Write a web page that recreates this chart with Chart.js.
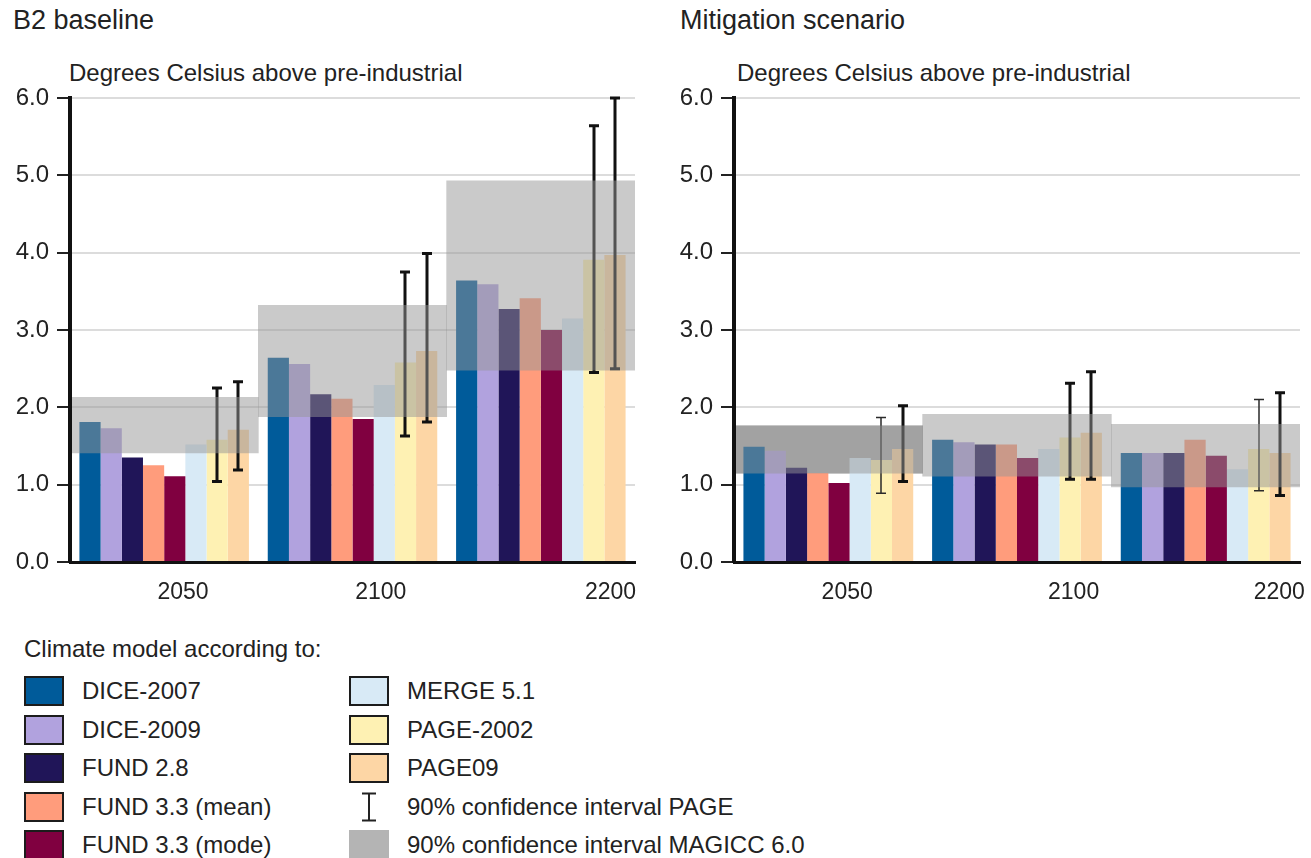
<!DOCTYPE html>
<html>
<head>
<meta charset="utf-8">
<title>Warming by climate model: B2 baseline vs mitigation</title>
<script src="https://cdn.jsdelivr.net/npm/chart.js@4.4.1/dist/chart.umd.min.js"></script>
<style>
  html, body { margin: 0; padding: 0; background: #fff; }
  body {
    width: 1311px; height: 858px; position: relative; overflow: hidden;
    font-family: "Liberation Sans", Arial, Helvetica, sans-serif; color: #222;
  }
  .panel-title { position: absolute; top: 7px; font-size: 27px; line-height: 27px; white-space: nowrap; }
  .unit-label { position: absolute; top: 61px; font-size: 24px; line-height: 24px; white-space: nowrap; }
  canvas { position: absolute; top: 0; }
  #legend-title { position: absolute; left: 24px; top: 637px; font-size: 24px; line-height: 24px; white-space: nowrap; }
  .legend-row { position: absolute; height: 30px; display: flex; align-items: center; font-size: 24px; line-height: 30px; white-space: nowrap; }
  .legend-swatch { width: 40px; height: 30px; box-sizing: border-box; border: 2.5px solid #1c1c1c; flex: none; }
  .legend-swatch.plain { border: none; }
  .legend-text { margin-left: 18px; }
  .legend-icon { width: 40px; height: 30px; flex: none; }
</style>
</head>
<body>

<div class="panel-title" style="left:13px">B2 baseline</div>
<div class="panel-title" style="left:680px">Mitigation scenario</div>
<div class="unit-label" style="left:69px">Degrees Celsius above pre-industrial</div>
<div class="unit-label" style="left:737px">Degrees Celsius above pre-industrial</div>

<canvas id="b2Chart" width="650" height="620" style="left:0px"></canvas>
<canvas id="mitChart" width="647" height="620" style="left:664px"></canvas>

<div id="legend-title">Climate model according to:</div>
<div id="legend"></div>

<script>
// ---- Data: temperature rise (°C above pre-industrial) in 2050, 2100, 2200 ----
const years = ['2050', '2100', '2200'];
const models = ['DICE-2007', 'DICE-2009', 'FUND 2.8', 'FUND 3.3 (mean)', 'FUND 3.3 (mode)',
                'MERGE 5.1', 'PAGE-2002', 'PAGE09'];
const yTicks = [0, 1, 2, 3, 4, 5, 6];

// B2 baseline
const b2Dice2007    = [1.81, 2.64, 3.64];
const b2Dice2009    = [1.73, 2.56, 3.59];
const b2Fund28      = [1.35, 2.17, 3.27];
const b2Fund33Mean  = [1.25, 2.11, 3.41];
const b2Fund33Mode  = [1.11, 1.85, 3.00];
const b2Merge51     = [1.52, 2.29, 3.15];
const b2Page2002    = [1.58, 2.58, 3.91];
const b2Page09      = [1.71, 2.73, 3.97];
const b2Page2002CI  = [[1.04, 2.25], [1.63, 3.75], [2.45, 5.64]];
const b2Page09CI    = [[1.19, 2.33], [1.81, 3.99], [2.50, 6.00]];
const b2MagiccCI    = [[1.41, 2.13], [1.88, 3.32], [2.48, 4.93]];

// Mitigation scenario
const mitDice2007   = [1.49, 1.58, 1.41];
const mitDice2009   = [1.44, 1.55, 1.41];
const mitFund28     = [1.22, 1.52, 1.41];
const mitFund33Mean = [1.15, 1.52, 1.58];
const mitFund33Mode = [1.02, 1.345, 1.375];
const mitMerge51    = [1.345, 1.46, 1.20];
const mitPage2002   = [1.32, 1.61, 1.46];
const mitPage09     = [1.46, 1.67, 1.41];
const mitPage2002CI = [[0.89, 1.87], [1.07, 2.31], [0.92, 2.10]];
const mitPage09CI   = [[1.04, 2.02], [1.07, 2.46], [0.86, 2.19]];
const mitMagiccCI   = [[1.15, 1.76], [1.11, 1.91], [0.97, 1.78]];

// ---- Styling ----
const FONT = '"Liberation Sans", Arial, Helvetica, sans-serif';
const modelColors = ['#005b9a', '#b1a2de', '#201558', '#ff9c7c', '#800040', '#d8eaf6', '#fef1b3', '#fdd6a5'];
const bandColor = 'rgba(149,149,149,0.5)';
const bandLegendColor = '#b4b4b4';

// Draws the PAGE 90% whiskers just before the MAGICC band, so the band shades them.
const whiskerPlugin = {
  id: 'pageWhiskers',
  beforeDatasetDraw(chart, args) {
    const band = chart.data.datasets[args.index];
    if (!band.isMagiccBand) return;
    const ctx = chart.ctx;
    const yScale = chart.scales.y;
    chart.data.datasets.forEach((ds, di) => {
      if (!ds.ci) return;
      const meta = chart.getDatasetMeta(di);
      ds.ci.forEach(([lo, hi], j) => {
        const bar = meta.data[j];
        if (!bar) return;
        const w = ds.whiskerWidths[j];
        const x = Math.round(bar.x);
        const yLo = yScale.getPixelForValue(lo);
        const yHi = yScale.getPixelForValue(hi);
        const half = 5;
        ctx.save();
        ctx.strokeStyle = w > 2 ? '#111' : '#2a2a2a';
        ctx.lineWidth = w;
        ctx.lineCap = 'butt';
        ctx.beginPath();
        ctx.moveTo(x, yHi); ctx.lineTo(x, yLo);
        ctx.moveTo(x - half, yHi); ctx.lineTo(x + half, yHi);
        ctx.moveTo(x - half, yLo); ctx.lineTo(x + half, yLo);
        ctx.stroke();
        ctx.restore();
      });
    });
  }
};

function modelDatasets(series, page2002CI, page09CI, whiskerWidths2002, whiskerWidths09) {
  return series.map((values, i) => {
    const ds = {
      label: models[i],
      data: values,
      xAxisID: 'x', yAxisID: 'y',
      backgroundColor: modelColors[i],
      borderWidth: 0,
      categoryPercentage: 0.9,
      barPercentage: 1.0,
      order: 2
    };
    if (models[i] === 'PAGE-2002') { ds.ci = page2002CI; ds.whiskerWidths = whiskerWidths2002; }
    if (models[i] === 'PAGE09')    { ds.ci = page09CI;   ds.whiskerWidths = whiskerWidths09; }
    return ds;
  });
}

function bandDataset(ci) {
  return {
    label: '90% confidence interval MAGICC 6.0',
    data: ci,
    xAxisID: 'x', yAxisID: 'y',
    grouped: false,
    categoryPercentage: 1.0,
    barPercentage: 1.0,
    backgroundColor: bandColor,
    borderWidth: 0,
    order: 0,
    isMagiccBand: true
  };
}

function panelOptions(labelAnchors, padRight) {
  return {
    responsive: false,
    animation: false,
    devicePixelRatio: 1,
    events: [],
    layout: { padding: { top: 98, right: padRight, bottom: 0, left: 0 } },
    plugins: { legend: { display: false }, tooltip: { enabled: false }, title: { display: false } },
    scales: {
      x: {
        type: 'category',
        position: 'bottom',
        weight: 0,
        offset: true,
        grid: { display: false },
        ticks: { display: false },
        border: { display: true, color: '#111', width: 3, z: 1 },
        afterFit: s => { s.height = 0; }
      },
      // year labels sit on a continuous axis spanning the same three category slots
      years: {
        type: 'linear',
        position: 'bottom',
        weight: 1,
        offset: false,
        bounds: 'data',
        min: -0.5,
        max: 2.5,
        grid: { display: false, drawTicks: false, offset: false },
        border: { display: false },
        afterBuildTicks: s => { s.ticks = labelAnchors.map(v => ({ value: v })); },
        ticks: {
          autoSkip: false, maxRotation: 0, padding: 17,
          color: '#222', font: { family: FONT, size: 23 },
          callback: (v, i) => years[i]
        },
        afterFit: s => { s.height = 58; s.paddingLeft = 0; s.paddingRight = 0; }
      },
      y: {
        type: 'linear',
        min: yTicks[0],
        max: yTicks[yTicks.length - 1],
        stacked: false,
        afterBuildTicks: s => { s.ticks = yTicks.map(v => ({ value: v })); },
        ticks: {
          padding: 8, color: '#222', font: { family: FONT, size: 24 },
          callback: v => v.toFixed(1)
        },
        grid: { color: '#dcdcdc', lineWidth: 2, tickColor: '#222', tickLength: 13, tickWidth: 2 },
        border: { display: true, color: '#111', width: 4, z: 1 },
        afterFit: s => { s.width = 70; }
      }
    }
  };
}

// ---- B2 baseline panel ----
new Chart(document.getElementById('b2Chart'), {
  type: 'bar',
  data: {
    labels: years,
    datasets: [
      ...modelDatasets(
        [b2Dice2007, b2Dice2009, b2Fund28, b2Fund33Mean, b2Fund33Mode, b2Merge51, b2Page2002, b2Page09],
        b2Page2002CI, b2Page09CI, [3, 3, 3], [3, 3, 3]),
      bandDataset(b2MagiccCI)
    ]
  },
  options: panelOptions([0.10, 1.15, 2.37], 15),
  plugins: [whiskerPlugin]
});

// ---- Mitigation panel ----
const mitUnderlay = {
  label: 'MAGICC 6.0 (2050 shading)',
  data: mitMagiccCI,
  xAxisID: 'x', yAxisID: 'y',
  grouped: false,
  categoryPercentage: 1.0,
  barPercentage: 1.0,
  backgroundColor: ctx => ctx.dataIndex === 0 ? 'rgb(175,175,175)' : 'rgba(0,0,0,0)',
  borderWidth: 0,
  order: 5
};

new Chart(document.getElementById('mitChart'), {
  type: 'bar',
  data: {
    labels: years,
    datasets: [
      ...modelDatasets(
        [mitDice2007, mitDice2009, mitFund28, mitFund33Mean, mitFund33Mode, mitMerge51, mitPage2002, mitPage09],
        mitPage2002CI, mitPage09CI, [1.5, 3, 1.5], [3, 3, 3]),
      mitUnderlay,
      bandDataset(mitMagiccCI)
    ]
  },
  options: panelOptions([0.10, 1.30, 2.39], 11),
  plugins: [whiskerPlugin]
});

// ---- Legend ----
const legend = document.getElementById('legend');
const rowTops = [676, 714.6, 753.2, 791.8, 830.4];
function addRow(left, top, swatchHtml, text) {
  const row = document.createElement('div');
  row.className = 'legend-row';
  row.style.left = left + 'px';
  row.style.top = top + 'px';
  row.innerHTML = swatchHtml + '<span class="legend-text">' + text + '</span>';
  legend.appendChild(row);
}
models.forEach((name, i) => {
  const col = i < 5 ? 0 : 1;
  const rowIdx = i < 5 ? i : i - 5;
  addRow(col === 0 ? 24 : 349, rowTops[rowIdx],
         '<div class="legend-swatch" style="background:' + modelColors[i] + '"></div>', name);
});
addRow(349, rowTops[3],
  '<svg class="legend-icon" viewBox="0 0 40 30"><path d="M13 1.5H27M20 1.5V28.5M13 28.5H27" stroke="#222" stroke-width="2" fill="none"/></svg>',
  '90% confidence interval PAGE');
addRow(349, rowTops[4],
  '<div class="legend-swatch plain" style="background:' + bandLegendColor + '"></div>',
  '90% confidence interval MAGICC 6.0');
</script>
</body>
</html>
